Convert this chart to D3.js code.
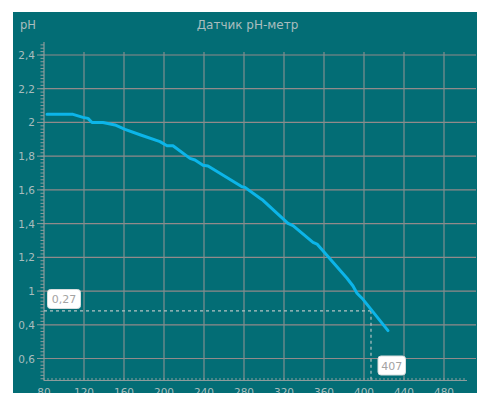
<!DOCTYPE html>
<html>
<head>
<meta charset="utf-8">
<script src="https://cdn.jsdelivr.net/npm/d3@7"></script>
<style>
html,body{margin:0;padding:0;background:#fff;overflow:hidden;}
svg{display:block;}
</style>
</head>
<body>
<svg id="chart" width="477" height="393"></svg>
<script>
// ---- data ----
const title = "Датчик pH-метр";
const yAxisTitle = "pH";
const xValues = [83, 109, 119, 124, 128, 139, 151, 161, 176, 196, 203, 209, 226, 231, 239, 244, 278, 281, 296, 299, 324, 329, 349, 353, 383, 389, 393, 399, 424];
const yValues = [2.048, 2.048, 2.03, 2.024, 2.0, 2.0, 1.985, 1.959, 1.927, 1.886, 1.862, 1.862, 1.787, 1.777, 1.746, 1.742, 1.619, 1.615, 1.55, 1.538, 1.402, 1.388, 1.289, 1.279, 1.076, 1.03, 0.987, 0.951, 0.765];
const xTickValues = [80, 120, 160, 200, 240, 280, 320, 360, 400, 440, 480];
const xTickLabels = ["80", "120", "160", "200", "240", "280", "320", "360", "400", "440", "480"];
const yTickValues = [2.4, 2.2, 2.0, 1.8, 1.6, 1.4, 1.2, 1.0, 0.8, 0.6];
const yTickLabels = ["2,4", "2,2", "2", "1,8", "1,6", "1,4", "1,2", "1", "0,4", "0,6"];
const markerX = [407];
const markerY = [0.883];
const markerXLabel = ["407"];
const markerYLabel = ["0,27"];

// ---- layout ----
const svg = d3.select("#chart");
const panel = {x: 13, y: 12, w: 464, h: 381};
const x = d3.scaleLinear().domain([80, 503]).range([44, 467]);
const y = d3.scaleLinear().domain([0.6, 2.4]).range([358.5, 55]);
const yTop = 42, yBottom = 380.5, gridRight = 476;

const font = "'DejaVu Sans', Verdana, sans-serif";
const textCol = "#a9bdbe";
const gridColH = "#928a8a";
const gridColV = "#7f8f8f";
const axisCol = "#8c9c9c";

svg.append("rect").attr("x", panel.x).attr("y", panel.y)
  .attr("width", panel.w).attr("height", panel.h).attr("fill", "#036d75");

// title
svg.append("text").attr("x", 247.5).attr("y", 29).attr("text-anchor", "middle")
  .attr("font-family", font).attr("font-size", 12).attr("fill", textCol).text(title);
svg.append("text").attr("x", 20).attr("y", 29)
  .attr("font-family", font).attr("font-size", 11.5).attr("fill", textCol).text(yAxisTitle);

// horizontal grid
svg.append("g").selectAll("line").data(yTickValues).join("line")
  .attr("x1", x(80)).attr("x2", gridRight)
  .attr("y1", d => y(d)).attr("y2", d => y(d))
  .attr("stroke", gridColH).attr("stroke-width", 1.2);

// vertical grid
svg.append("g").selectAll("line").data(xTickValues.slice(1)).join("line")
  .attr("x1", d => x(d)).attr("x2", d => x(d))
  .attr("y1", 52).attr("y2", yBottom)
  .attr("stroke", gridColV).attr("stroke-width", 1.2);

// y axis
const yMinor = d3.range(0, 100).map(i => 0.48 + i * 0.02).filter(v => y(v) >= yTop && y(v) <= yBottom);
const yAxisG = svg.append("g");
yAxisG.append("line").attr("x1", 44).attr("x2", 44).attr("y1", yTop).attr("y2", yBottom)
  .attr("stroke", axisCol).attr("stroke-width", 1.2);
yAxisG.selectAll("line.minor").data(yMinor).join("line").attr("class", "minor")
  .attr("x1", 40.5).attr("x2", 44).attr("y1", d => y(d)).attr("y2", d => y(d))
  .attr("stroke", axisCol).attr("stroke-width", 1);
yAxisG.selectAll("line.major").data(yTickValues).join("line").attr("class", "major")
  .attr("x1", 37).attr("x2", 44).attr("y1", d => y(d)).attr("y2", d => y(d))
  .attr("stroke", axisCol).attr("stroke-width", 1);
yAxisG.selectAll("text").data(yTickValues).join("text")
  .attr("x", 35).attr("y", d => y(d) + 4).attr("text-anchor", "end")
  .attr("font-family", font).attr("font-size", 10.5).attr("fill", textCol)
  .text((d, i) => yTickLabels[i]);

// x axis
const xMinor = d3.range(80, 504, 4);
const xAxisG = svg.append("g");
xAxisG.append("line").attr("x1", 44).attr("x2", x(503)).attr("y1", yBottom).attr("y2", yBottom)
  .attr("stroke", axisCol).attr("stroke-width", 1.2);
xAxisG.selectAll("line.minor").data(xMinor).join("line").attr("class", "minor")
  .attr("x1", d => x(d)).attr("x2", d => x(d)).attr("y1", yBottom - 2.5).attr("y2", yBottom)
  .attr("stroke", axisCol).attr("stroke-width", 1);
xAxisG.selectAll("text").data(xTickValues).join("text")
  .attr("x", d => x(d)).attr("y", 396).attr("text-anchor", "middle")
  .attr("font-family", font).attr("font-size", 10.5).attr("fill", textCol)
  .text((d, i) => xTickLabels[i]);

// marker dashed lines
const mg = svg.append("g");
mg.append("line").attr("x1", 44).attr("x2", x(markerX[0])).attr("y1", y(markerY[0])).attr("y2", y(markerY[0]))
  .attr("stroke", "#b5c4c4").attr("stroke-width", 1.2).attr("stroke-dasharray", "3,3");
mg.append("line").attr("x1", x(markerX[0])).attr("x2", x(markerX[0])).attr("y1", y(markerY[0])).attr("y2", yBottom)
  .attr("stroke", "#b5c4c4").attr("stroke-width", 1.2).attr("stroke-dasharray", "3,3");

// data line
const line = d3.line().x(d => x(d[0])).y(d => y(d[1]));
svg.append("path").datum(xValues.map((v, i) => [v, yValues[i]]))
  .attr("d", line).attr("fill", "none").attr("stroke", "#0cb5e9")
  .attr("stroke-width", 3).attr("stroke-linejoin", "round").attr("stroke-linecap", "round");

// marker labels
function box(cx, cy, w, h, label) {
  const g = svg.append("g");
  g.append("rect").attr("x", cx).attr("y", cy).attr("width", w).attr("height", h)
    .attr("rx", 3).attr("fill", "#ffffff").attr("stroke", "#d8dede").attr("stroke-width", 1);
  g.append("text").attr("x", cx + w / 2).attr("y", cy + h / 2 + 4).attr("text-anchor", "middle")
    .attr("font-family", font).attr("font-size", 11).attr("fill", "#a3a3a3").text(label);
}
box(47.5, 289.5, 33, 19, markerYLabel[0]);
box(x(markerX[0]) + 7, 356, 27.5, 19, markerXLabel[0]);
</script>
</body>
</html>
